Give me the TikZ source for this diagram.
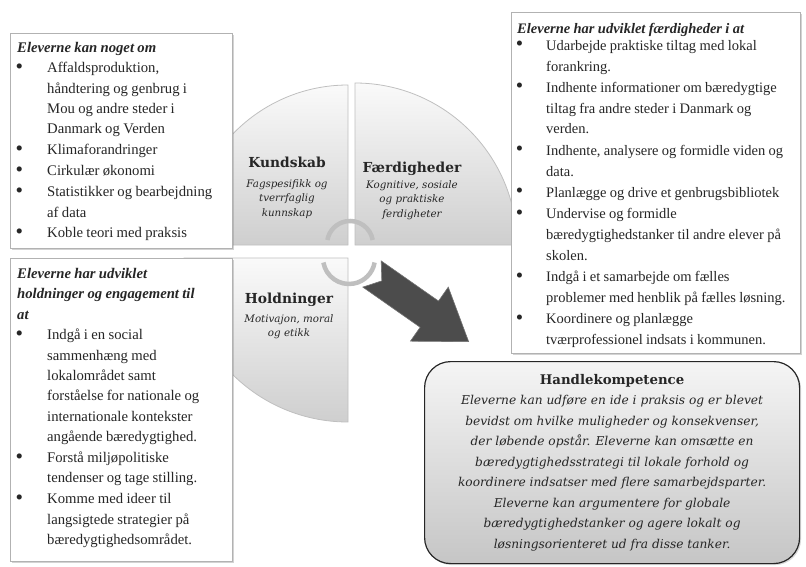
\documentclass[tikz,border=0pt]{standalone}
\usepackage{fontspec}
\setmainfont{Liberation Serif}
\newfontfamily\quadfont{DejaVu Serif}
\usepackage{enumitem}
\usetikzlibrary{positioning,shadows}
\newcommand\bigbullet{\raisebox{-0.6pt}{\scalebox{1.45}{\textbullet}}}
\setlist[itemize]{label=\bigbullet, leftmargin=30pt, labelwidth=6pt, labelsep=24pt,
  topsep=0pt, partopsep=0pt, parsep=0pt, itemsep=0.5pt}
\newcommand\lboxfont{\fontsize{14.7}{20.4}\selectfont}
\newcommand\rboxfont{\fontsize{14.5}{20.8}\selectfont}
\newcommand\quadtitle[1]{\textbf{\upshape\fontsize{13.8}{16}\selectfont #1}}
\newcommand\pierad{160}
\newcommand\turnrad{23}

\tikzset{
  framebox/.style={draw=gray!60, line width=1pt, fill=white, anchor=north west, inner sep=0pt,
    drop shadow={shadow xshift=1.5pt, shadow yshift=-1.5pt, opacity=0.35}},
  listtext/.style={anchor=north west, inner sep=0pt, align=left, text width=#1, text=black!85},
  quadrant/.style={top color=gray!4, bottom color=gray!38, draw=gray!50, line width=0.8pt},
  quadlabel/.style={align=center, inner sep=0pt, text=black!85,
    font=\quadfont\itshape\fontsize{10.3}{14.5}\selectfont},
  turnarrow/.style={draw=gray!50, line width=4.5pt},
  bigarrow/.style={fill=black!70, draw=black!55, line width=0.6pt}
}

\begin{document}
\begin{tikzpicture}[x=1pt,y=1pt]
  \useasboundingbox (0,0) rectangle (806,-567);
  % quarter discs
  \shade[quadrant] (348,-245) -- ++(-\pierad,0) arc (180:90:\pierad) -- cycle;
  \shade[quadrant] (355,-245) -- ++(0,\pierad+2) arc (90:0:\pierad+2) -- cycle;
  \shade[quadrant] (348,-258) -- ++(-\pierad-4,0) arc (180:270:\pierad+4) -- cycle;
  % turning arrows in the middle
  \draw[turnarrow] (372.7,-240) arc (10:170:\turnrad);
  \draw[turnarrow] (323.4,-262.5) arc (190:350:26);
  % big arrow
  \filldraw[bigarrow, shift={(372,-274)}, rotate=-35] (0,16) -- (70,16) -- (70,33) -- (118,0)
    -- (70,-33) -- (70,-16) -- (0,-16) -- (12,0) -- cycle;
  % quadrant labels
  \node[quadlabel] (kundskab) at (287,-188)
    {\quadtitle{Kundskab}\\[5pt] Fagspesifikk og\\ tverrfaglig\\ kunnskap};
  \node[quadlabel] (faerdig) at (412,-191)
    {\quadtitle{Færdigheder}\\[1pt] Kognitive, sosiale\\ og praktiske\\ ferdigheter};
  \node[quadlabel] (holdning) at (289,-316)
    {\quadtitle{Holdninger}\\[4pt] Motivajon, moral\\ og etikk};

  % left top box
  \node[framebox, minimum width=222pt, minimum height=215pt] (kframe) at (10,-33) {};
  \node[listtext=212pt, below right=9pt and 7pt of kframe.north west] (ktext) {\lboxfont
    \textbf{\textit{Eleverne kan noget om}}\par
    \begin{itemize}
      \item Affaldsproduktion,\newline håndtering og genbrug i\newline Mou og andre steder i\newline Danmark og Verden
      \item Klimaforandringer
      \item Cirkulær økonomi
      \item Statistikker og bearbejdning\newline af data
      \item Koble teori med praksis
    \end{itemize}};
  % left bottom box
  \node[framebox, minimum width=222pt, minimum height=303pt] (hframe) at (10,-258) {};
  \node[listtext=212pt, below right=10pt and 7pt of hframe.north west] (htext) {\lboxfont
    \textbf{\textit{Eleverne har udviklet\newline holdninger og engagement til\newline at}}\par
    \begin{itemize}
      \item Indgå i en social\newline sammenhæng med\newline lokalområdet samt\newline forståelse for nationale og\newline internationale kontekster\newline angående bæredygtighed.
      \item Forstå miljøpolitiske\newline tendenser og tage stilling.
      \item Komme med ideer til\newline langsigtede strategier på\newline bæredygtighedsområdet.
    \end{itemize}};
  % right box
  \node[framebox, minimum width=289pt, minimum height=341pt] (fframe) at (511,-12) {};
  \node[listtext=282pt, below right=11pt and 6pt of fframe.north west] (ftext) {\rboxfont
    \textbf{\textit{Eleverne har udviklet færdigheder i at}}\par\vspace{-4pt}
    \begin{itemize}[leftmargin=29pt, labelsep=23pt]
      \item Udarbejde praktiske tiltag med lokal\newline forankring.
      \item Indhente informationer om bæredygtige\newline tiltag fra andre steder i Danmark og\newline verden.
      \item Indhente, analysere og formidle viden og\newline data.
      \item Planlægge og drive et genbrugsbibliotek
      \item Undervise og formidle\newline bæredygtighedstanker til andre elever på\newline skolen.
      \item Indgå i et samarbejde om fælles\newline problemer med henblik på fælles løsning.
      \item Koordinere og planlægge\newline tværprofessionel indsats i kommunen.
    \end{itemize}};

  % action competence
  \node[draw=gray!30!black, line width=1.2pt, rounded corners=26pt, top color=gray!8,
    bottom color=gray!45, minimum width=375pt, minimum height=202pt, anchor=north west,
    drop shadow={shadow xshift=1.5pt, shadow yshift=-1.5pt, opacity=0.3}]
    (hkbox) at (424,-361) {};
  \node[align=center, inner sep=0pt, text=black!85,
    font=\quadfont\itshape\fontsize{12.2}{20.5}\selectfont] (hktext) at (hkbox.center)
    {\textbf{\upshape\fontsize{13.3}{20.5}\selectfont Handlekompetence}\\
     Eleverne kan udføre en ide i praksis og er blevet\\
     bevidst om hvilke muligheder og konsekvenser,\\
     der løbende opstår. Eleverne kan omsætte en\\
     bæredygtighedsstrategi til lokale forhold og\\
     koordinere indsatser med flere samarbejdsparter.\\
     Eleverne kan argumentere for globale\\
     bæredygtighedstanker og agere lokalt og\\
     løsningsorienteret ud fra disse tanker.};
\end{tikzpicture}
\end{document}
